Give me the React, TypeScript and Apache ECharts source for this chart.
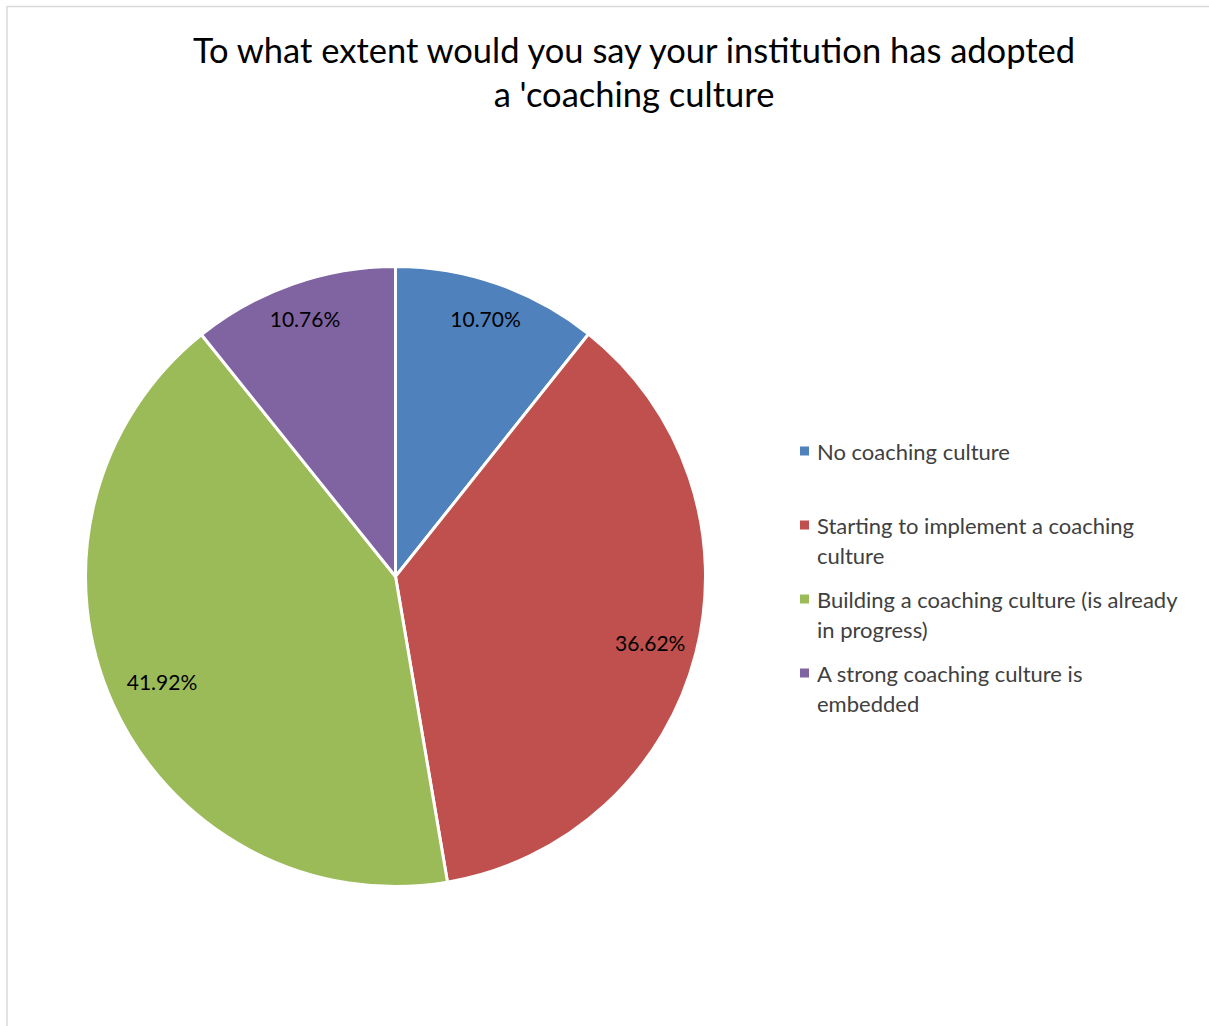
import React, { useEffect, useRef } from "react";
import * as echarts from "echarts";

const TITLE_LINES = ["To what extent would you say your institution has adopted", "a 'coaching culture"];
const CATEGORIES = [
  "No coaching culture",
  "Starting to implement a coaching culture",
  "Building a coaching culture (is already in progress)",
  "A strong coaching culture is embedded",
];
const LEGEND_LINES = [
  "No coaching culture\n ",
  "Starting to implement a coaching\nculture",
  "Building a coaching culture (is already\nin progress)",
  "A strong coaching culture is\nembedded",
];
const VALUES = [10.7, 36.62, 41.92, 10.76];
const COLORS = ["#4F81BD", "#C0504D", "#9BBB59", "#8064A2"];
// label ring group per slice (0: thin slices, 1: red, 2: green)
const LABEL_GROUP = [0, 1, 2, 0];
const LABEL_INNER_RADIUS = [230, 210, 196];

const FONT = "Lato, 'Liberation Sans', sans-serif";

export default function App() {
  const ref = useRef<HTMLDivElement>(null);
  useEffect(() => {
    if (!ref.current) return;
    const chart = echarts.init(ref.current, null, { renderer: "svg" });
    const data = CATEGORIES.map((name, i) => ({
      name,
      value: VALUES[i],
      itemStyle: { color: COLORS[i] },
    }));
    const labelSeries = (group: number) => ({
      type: "pie",
      center: [395.5, 576.5],
      radius: [LABEL_INNER_RADIUS[group], 310],
      startAngle: 90,
      clockwise: true,
      silent: true,
      avoidLabelOverlap: false,
      emphasis: { disabled: true },
      itemStyle: { color: "rgba(0,0,0,0)", borderWidth: 0 },
      labelLine: { show: false },
      label: {
        show: true,
        position: "inside",
        fontFamily: FONT,
        fontSize: 21,
        color: "#000000",
        formatter: (p: any) => Number(p.value).toFixed(2) + "%",
      },
      data: CATEGORIES.map((name, i) => ({
        name,
        value: VALUES[i],
        label: { show: LABEL_GROUP[i] === group },
      })),
    });
    chart.setOption({
      animation: false,
      backgroundColor: "#ffffff",
      graphic: [
        {
          type: "rect",
          silent: true,
          shape: { x: 7, y: 6.5, width: 1300, height: 1100 },
          style: { fill: "none", stroke: "#d9d9d9", lineWidth: 1.5 },
        },
        {
          type: "text",
          silent: true,
          x: 634,
          y: 71.5,
          style: {
            text: TITLE_LINES.join("\n"),
            fontFamily: FONT,
            fontSize: 34.5,
            fill: "#000000",
            align: "center",
            verticalAlign: "middle",
            lineHeight: 43.5,
          },
        },
      ],
      legend: {
        orient: "vertical",
        left: 795,
        top: 431,
        itemWidth: 12,
        itemHeight: 60,
        itemGap: 14,
        icon: "path://M0,0M12,60M0,10.5h9v9h-9z",
        itemStyle: { borderWidth: 0 },
        selectedMode: false,
        textStyle: { fontFamily: FONT, fontSize: 22, color: "#404040", lineHeight: 30 },
        formatter: (name: string) => LEGEND_LINES[CATEGORIES.indexOf(name)],
        data: CATEGORIES,
      },
      series: [
        {
          type: "pie",
          center: [395.5, 576.5],
          radius: 310,
          startAngle: 90,
          clockwise: true,
          avoidLabelOverlap: false,
          label: { show: false },
          labelLine: { show: false },
          emphasis: { disabled: true },
          itemStyle: { borderColor: "#ffffff", borderWidth: 3 },
          data,
        },
        labelSeries(0),
        labelSeries(1),
        labelSeries(2),
      ],
    });
    return () => chart.dispose();
  }, []);
  return (
    <div
      ref={ref}
      style={{ position: "absolute", left: 0, top: 0, width: 1209, height: 1026 }}
    />
  );
}
